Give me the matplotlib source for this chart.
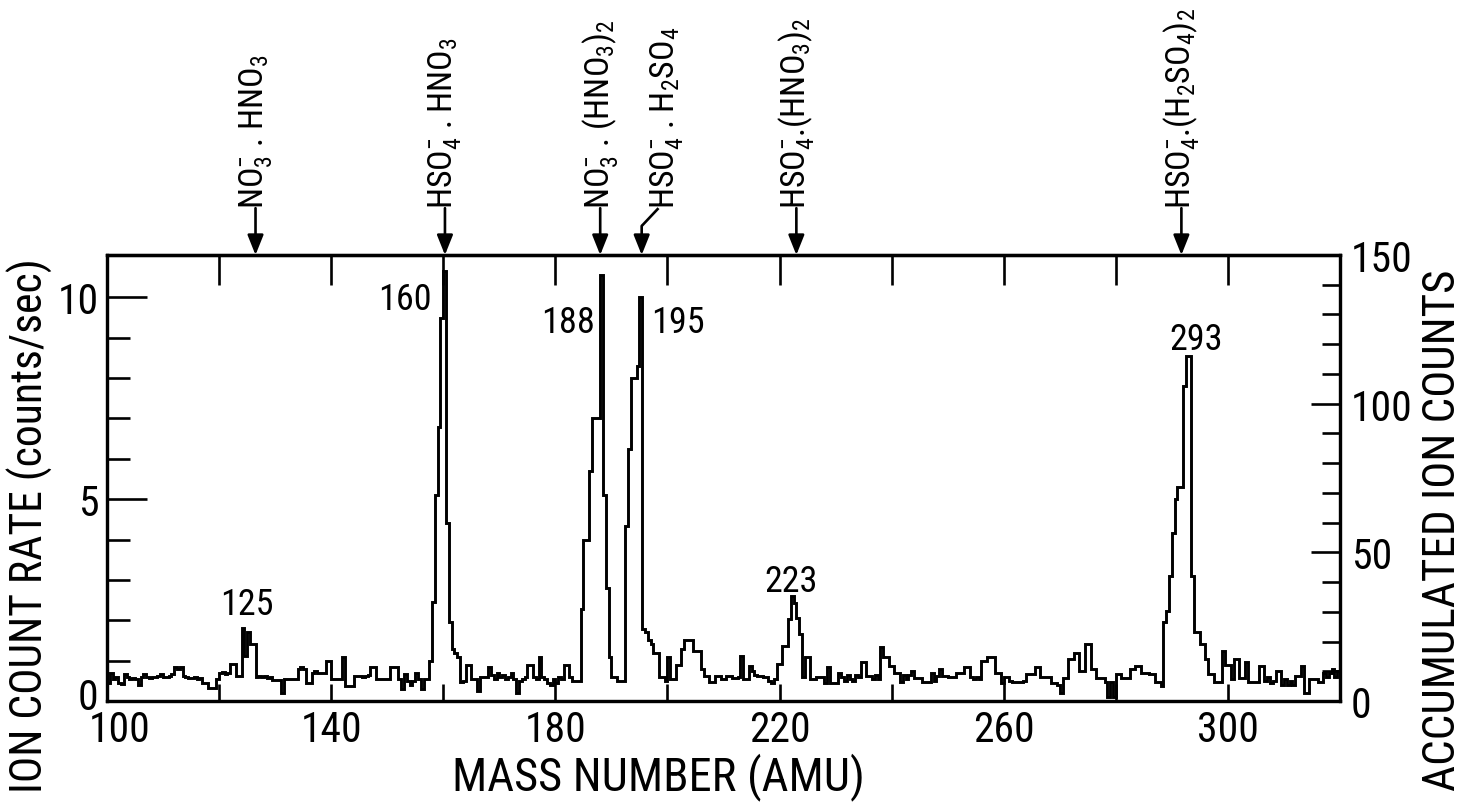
import numpy as np
import matplotlib
matplotlib.use("Agg")
import matplotlib.pyplot as plt
import matplotlib.transforms as mtrans
from matplotlib import font_manager as fm
from matplotlib.ticker import FixedLocator

# ---------------- data ----------------
mass_start = 100.0     # amu, left edge of first channel
mass_step = 0.5        # amu per channel
count_rate = [
    0.45, 0.7, 0.55, 0.6, 0.45, 0.42, 0.67, 0.6, 0.55, 0.58,      # 100
    0.55, 0.4, 0.6, 0.67, 0.6, 0.58, 0.6, 0.6, 0.62, 0.67,        # 105
    0.6, 0.6, 0.62, 0.67, 0.83, 0.8, 0.83, 0.62, 0.6, 0.58,       # 110
    0.58, 0.6, 0.55, 0.58, 0.45, 0.45, 0.33, 0.33, 0.33, 0.55,    # 115
    0.7, 0.72, 0.68, 0.7, 0.92, 0.92, 0.63, 0.63, 1.82, 1.12,     # 120
    1.7, 1.41, 1.41, 0.6, 0.62, 0.6, 0.62, 0.58, 0.6, 0.52,       # 125
    0.52, 0.52, 0.21, 0.55, 0.55, 0.55, 0.55, 0.55, 0.8, 0.85,    # 130
    0.8, 0.45, 0.45, 0.7, 0.75, 0.7, 0.7, 0.7, 1.0, 1.0,          # 135
    0.55, 0.55, 0.55, 0.55, 1.08, 0.38, 0.38, 0.38, 0.63, 0.63,   # 140
    0.63, 0.6, 0.63, 0.65, 0.83, 0.83, 0.55, 0.55, 0.55, 0.55,    # 145
    0.55, 0.83, 0.83, 0.83, 0.55, 0.3, 0.67, 0.5, 0.4, 0.5,       # 150
    0.7, 0.55, 0.3, 0.55, 0.55, 1.0, 2.45, 5.1, 6.8, 9.5,         # 155
    10.65, 4.4, 1.95, 1.3, 1.2, 1.1, 0.47, 0.5, 0.9, 0.9,         # 160
    0.55, 0.55, 0.25, 0.6, 0.6, 0.6, 0.83, 0.65, 0.55, 0.7,       # 165
    0.6, 0.65, 0.55, 0.6, 0.7, 0.55, 0.2, 0.5, 0.55, 0.6,         # 170
    0.9, 0.9, 0.6, 0.55, 1.08, 0.6, 0.55, 0.45, 0.4, 0.55,        # 175
    0.45, 0.6, 0.55, 0.9, 0.9, 0.6, 0.5, 0.5, 0.5, 2.28,          # 180
    4.0, 4.0, 5.7, 7.0, 7.0, 7.0, 10.55, 5.1, 2.8, 1.1,           # 185
    0.6, 0.6, 0.5, 0.5, 0.5, 4.34, 6.24, 8.0, 8.0, 8.3,           # 190
    10.0, 1.78, 1.7, 1.5, 1.4, 1.2, 1.2, 0.6, 0.6, 0.5,           # 195
    1.1, 0.55, 0.55, 0.9, 0.9, 1.29, 1.5, 1.5, 1.5, 1.25,         # 200
    1.25, 1.25, 0.8, 0.63, 0.63, 0.46, 0.46, 0.63, 0.63, 0.55,    # 205
    0.55, 0.63, 0.63, 0.58, 0.58, 0.6, 1.12, 0.55, 0.55, 0.87,    # 210
    0.75, 0.65, 0.63, 0.63, 0.6, 0.6, 0.5, 0.45, 0.55, 0.92,      # 215
    0.92, 1.37, 1.37, 2.03, 2.6, 2.44, 2.05, 1.65, 0.6, 1.1,      # 220
    1.1, 0.55, 0.55, 0.6, 0.6, 0.6, 0.45, 0.83, 0.45, 0.45,       # 225
    0.45, 0.7, 0.6, 0.5, 0.65, 0.55, 0.5, 0.65, 0.6, 0.96,        # 230
    0.96, 0.63, 0.63, 0.55, 0.65, 0.55, 1.33, 1.08, 1.08, 0.87,   # 235
    0.87, 0.7, 0.7, 0.46, 0.65, 0.55, 0.65, 0.75, 0.58, 0.58,     # 240
    0.58, 0.46, 0.46, 0.46, 0.7, 0.5, 0.63, 0.8, 0.63, 0.63,      # 245
    0.6, 0.6, 0.6, 0.7, 0.7, 0.7, 0.83, 0.83, 0.6, 0.55,          # 250
    0.6, 0.55, 1.0, 1.0, 1.08, 1.08, 1.08, 0.7, 0.7, 0.45,        # 255
    0.6, 0.6, 0.5, 0.46, 0.46, 0.46, 0.46, 0.5, 0.67, 0.67,       # 260
    0.67, 0.83, 0.83, 0.59, 0.59, 0.59, 0.59, 0.45, 0.45, 0.4,    # 265
    0.21, 0.58, 0.58, 1.04, 1.04, 1.2, 1.2, 0.75, 0.75, 1.41,     # 270
    1.41, 0.79, 0.79, 0.58, 0.58, 0.58, 0.46, 0.1, 0.46, 0.1,     # 275
    0.67, 0.67, 0.58, 0.58, 0.58, 0.79, 0.79, 0.87, 0.87, 0.7,    # 280
    0.7, 0.7, 0.67, 0.67, 0.46, 0.46, 0.38, 1.95, 2.24, 3.1,      # 285
    4.17, 5.0, 5.3, 5.3, 7.8, 8.55, 8.55, 3.1, 1.7, 1.7,          # 290
    1.41, 1.41, 1.04, 0.67, 0.67, 0.46, 0.46, 0.46, 1.25, 0.9,    # 295
    0.9, 0.55, 1.04, 1.04, 0.58, 0.58, 0.96, 0.46, 0.46, 0.46,    # 300
    0.46, 0.87, 0.87, 0.5, 0.6, 0.45, 0.5, 0.75, 0.75, 0.4,       # 305
    0.55, 0.4, 0.5, 0.4, 0.63, 0.63, 0.87, 0.21, 0.21, 0.54,      # 310
    0.54, 0.54, 0.46, 0.46, 0.7, 0.6, 0.7, 0.8, 0.6, 0.75,        # 315
]

peak_labels = ["125", "160", "188", "195", "223", "293"]
ion_labels = [
    r"NO$_3^{-}$ . HNO$_3$",
    r"HSO$_4^{-}$ . HNO$_3$",
    r"NO$_3^{-}$ . (HNO$_3$)$_2$",
    r"HSO$_4^{-}$ . H$_2$SO$_4$",
    r"HSO$_4^{-}$.(HNO$_3$)$_2$",
    r"HSO$_4^{-}$.(H$_2$SO$_4$)$_2$",
]
ion_masses = [126.5, 160.3, 188.0, 195.4, 223.0, 291.7]

x_major = [100, 140, 180, 220, 260, 300]
x_minor = [120, 160, 200, 240, 280]
x_top = [120, 140, 160, 180, 200, 220, 240, 260, 280, 300]
y_major = [0, 5, 10]
y_minor = [1, 2, 3, 4, 6, 7, 8, 9]
y2_major = [0, 50, 100, 150]
y2_minor = [10, 20, 30, 40, 60, 70, 80, 90, 110, 120, 130, 140]

# ---------------- fonts ----------------
available = {f.name for f in fm.fontManager.ttflist}
if "Liberation Sans Narrow" in available:
    FONT = "Liberation Sans Narrow"
    FS_TICK, FS_XLAB, FS_YLAB, FS_RLAB, FS_ION, FS_PEAK = 31, 35, 34, 34, 26, 27
elif "Roboto Condensed" in available:
    FONT = "Roboto Condensed"
    FS_TICK, FS_XLAB, FS_YLAB, FS_RLAB, FS_ION, FS_PEAK = 30, 33.5, 31.5, 32.5, 24.5, 26
else:
    FONT = "DejaVu Sans"
    FS_TICK, FS_XLAB, FS_YLAB, FS_RLAB, FS_ION, FS_PEAK = 24, 27, 26, 26, 20, 19

plt.rcParams["font.family"] = [FONT, "DejaVu Sans"]
plt.rcParams["mathtext.fontset"] = "custom"
plt.rcParams["mathtext.rm"] = FONT
plt.rcParams["mathtext.it"] = FONT
plt.rcParams["mathtext.default"] = "regular"

LW_SPINE = 2.3
LW_TICK = 1.9

# ---------------- figure ----------------
fig = plt.figure(figsize=(14.66, 8.03), dpi=100)
ax = fig.add_axes([107 / 1466, 101 / 803, 1233 / 1466, 446 / 803])

edges = mass_start + mass_step * np.arange(len(count_rate) + 1)
ax.stairs(count_rate, edges, baseline=None, color="black", linewidth=2.1)

ax.set_xlim(100, 320)
ax.set_ylim(0, 11.05)

for s in ax.spines.values():
    s.set_linewidth(LW_SPINE)

ax.xaxis.set_major_locator(FixedLocator(x_major))
ax.xaxis.set_minor_locator(FixedLocator(x_minor))
ax.yaxis.set_major_locator(FixedLocator(y_major))
ax.yaxis.set_minor_locator(FixedLocator(y_minor))

ax.tick_params(axis="x", which="both", direction="in", top=False, bottom=True,
               length=12, width=LW_TICK, labelsize=FS_TICK, pad=6)
ax.tick_params(axis="y", which="major", direction="in", right=False,
               length=29, width=LW_TICK, labelsize=FS_TICK, pad=6)
ax.tick_params(axis="y", which="minor", direction="in", right=False,
               length=16.5, width=LW_TICK)

# top ticks (longer)
top = ax.secondary_xaxis("top")
top.xaxis.set_major_locator(FixedLocator(x_top))
top.tick_params(axis="x", which="both", direction="in", length=21.6,
                width=LW_TICK, labeltop=False, labelbottom=False)
for s in top.spines.values():
    s.set_linewidth(LW_SPINE)

# right axis: accumulated counts
ax2 = ax.twinx()
ax2.set_ylim(0, 150)
ax2.yaxis.set_major_locator(FixedLocator(y2_major))
ax2.yaxis.set_minor_locator(FixedLocator(y2_minor))
ax2.tick_params(axis="y", which="major", direction="in", length=21,
                width=LW_TICK, labelsize=FS_TICK, pad=8)
ax2.tick_params(axis="y", which="minor", direction="in", length=13,
                width=LW_TICK)
for s in ax2.spines.values():
    s.set_linewidth(LW_SPINE)

# nudge the corner labels apart, as in the reference
t0 = ax.xaxis.get_major_ticks()[0]
t0.label1.set_transform(t0.label1.get_transform()
                        + mtrans.ScaledTranslation(0.13, 0, fig.dpi_scale_trans))
y0 = ax.yaxis.get_major_ticks()[0]
y0.label1.set_transform(y0.label1.get_transform()
                        + mtrans.ScaledTranslation(0, 0.08, fig.dpi_scale_trans))

# ---------------- peak labels ----------------
peak_pos = [(125.0, 2.4, "center"), (158.0, 9.95, "right"), (187.1, 9.4, "right"),
            (197.0, 9.4, "left"), (222.1, 2.97, "center"), (294.3, 8.96, "center")]
for lab, (px, py, ha) in zip(peak_labels, peak_pos):
    ax.text(px, py, lab, ha=ha, va="center", fontsize=FS_PEAK)

# ---------------- ion identifications with arrows ----------------
xt = ax.get_xaxis_transform()
y_text = 1.105
arrow_kw = dict(arrowstyle="-|>,head_length=0.55,head_width=0.22",
                mutation_scale=22, lw=1.9, color="black",
                shrinkA=0, shrinkB=0)
text_x = [126.5, 160.3, 188.0, 199.8, 223.0, 291.7]
for i, (lab, m, tx) in enumerate(zip(ion_labels, ion_masses, text_x)):
    ax.text(tx, y_text, lab, rotation=90, ha="center", va="bottom",
            fontsize=FS_ION, transform=xt, clip_on=False)
    if i == 3:
        y_kink = 1.065
        ax.plot([tx - 1.4, m], [y_text, y_kink], transform=xt, clip_on=False,
                color="black", lw=1.9, solid_capstyle="butt")
        ax.annotate("", xy=(m, 1.0), xycoords=xt, xytext=(m, y_kink),
                    textcoords=xt, arrowprops=arrow_kw, annotation_clip=False)
    else:
        ax.annotate("", xy=(m, 1.0), xycoords=xt, xytext=(m, y_text),
                    textcoords=xt, arrowprops=arrow_kw, annotation_clip=False)

# ---------------- axis titles ----------------
fig.text(30 / 1466, 1 - 526 / 803, "ION COUNT RATE (counts/sec)", rotation=90,
         ha="center", va="center", fontsize=FS_YLAB)
fig.text(1443 / 1466, 1 - 530 / 803, "ACCUMULATED ION COUNTS", rotation=90,
         ha="center", va="center", fontsize=FS_RLAB)
fig.text(658 / 1466, 1 - 790 / 803, "MASS NUMBER (AMU)", ha="center",
         va="baseline", fontsize=FS_XLAB)

fig.savefig("out.png", dpi=100, facecolor="white")
